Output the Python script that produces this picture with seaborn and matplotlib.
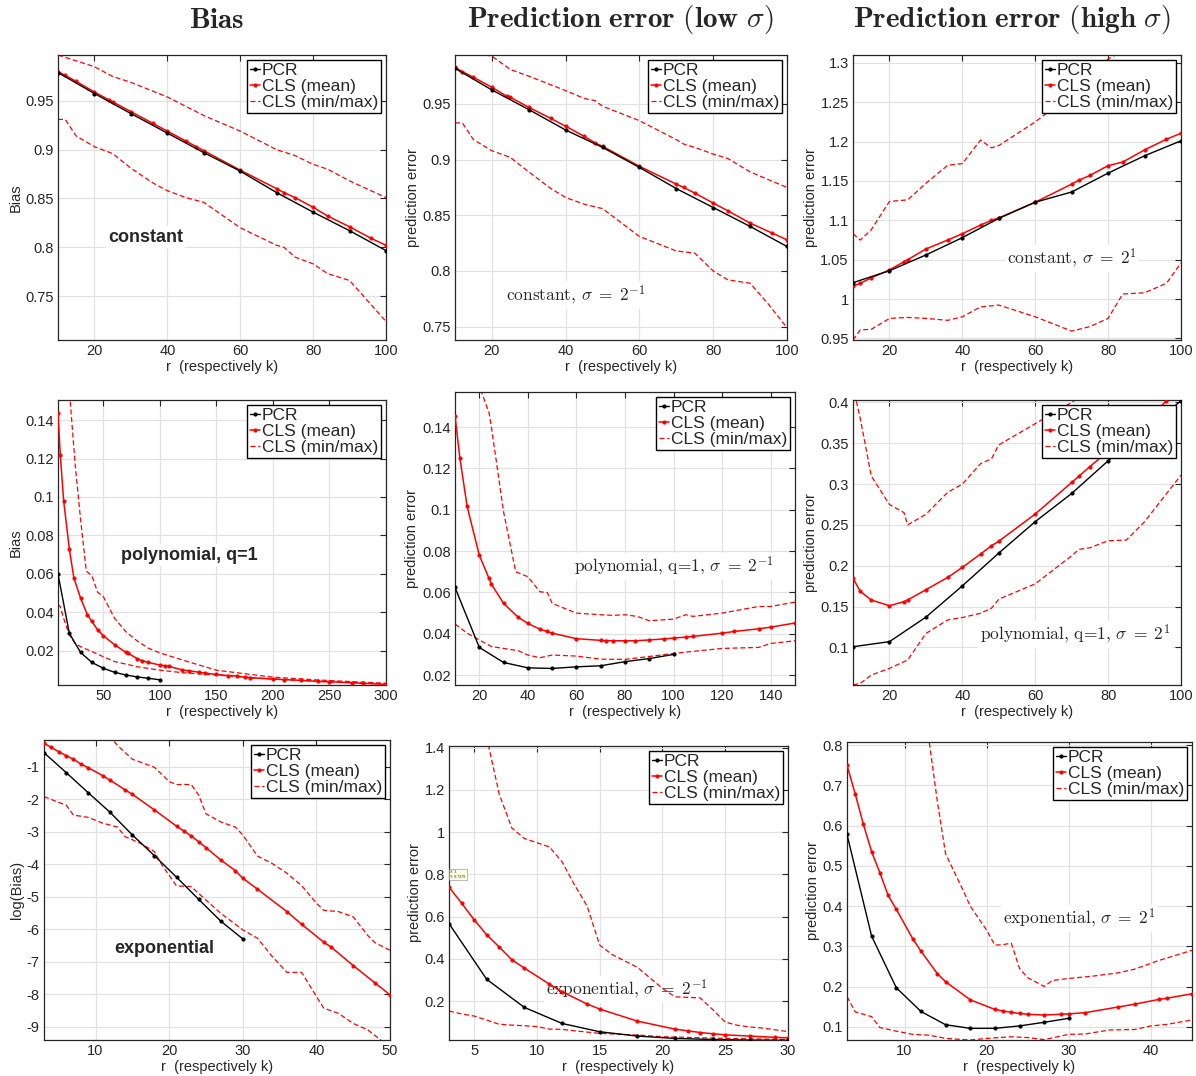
import matplotlib
matplotlib.use("Agg")
import matplotlib.pyplot as plt
from matplotlib.ticker import FuncFormatter
import seaborn as sns

# ---- data ----
r_pcr = [10, 20, 30, 40, 50, 60, 70, 80, 90, 100]
r_cls = [10, 12, 15, 20, 24, 25, 30, 36, 40, 45, 48, 50, 60, 70, 72, 75, 80, 84, 90, 96, 100]
r_pcr_exp = [3, 6, 9, 12, 15, 18, 21, 24, 27, 30]

# row 1: constant
bias_const_pcr = [0.979, 0.9575, 0.937, 0.917, 0.897, 0.878, 0.856, 0.836, 0.817, 0.7966]
bias_const_mean = [0.980, 0.976, 0.970, 0.959, 0.951, 0.949, 0.939, 0.927, 0.919, 0.909, 0.903,
                   0.899, 0.879, 0.860, 0.856, 0.851, 0.841, 0.832, 0.821, 0.809, 0.802]
bias_const_max_r = [10, 20, 25, 30, 40, 50, 60, 70, 75, 80, 84, 90, 100]
bias_const_max = [0.997, 0.985, 0.975, 0.969, 0.954, 0.935, 0.919, 0.900, 0.894, 0.885, 0.880, 0.868, 0.851]
bias_const_min_r = [10, 12, 15, 20, 25, 30, 36, 40, 45, 50, 60, 70, 72, 75, 80, 84, 90, 95, 100]
bias_const_min = [0.931, 0.931, 0.914, 0.903, 0.896, 0.881, 0.866, 0.858, 0.851, 0.846, 0.820,
                  0.802, 0.800, 0.790, 0.783, 0.773, 0.766, 0.745, 0.724]

low_const_pcr = [0.982, 0.9626, 0.945, 0.9266, 0.911, 0.893, 0.874, 0.857, 0.840, 0.822]
low_const_mean = [0.983, 0.979, 0.974, 0.965, 0.957, 0.956, 0.947, 0.937, 0.930, 0.921, 0.915,
                  0.912, 0.894, 0.878, 0.875, 0.870, 0.861, 0.854, 0.843, 0.834, 0.828]
low_const_max_r = [10, 15, 20, 25, 30, 40, 45, 48, 50, 60, 70, 72, 75, 80, 84, 90, 100]
low_const_max = [1.0, 0.996, 0.993, 0.981, 0.975, 0.962, 0.955, 0.953, 0.948, 0.935, 0.918,
                 0.914, 0.911, 0.905, 0.901, 0.889, 0.875]
low_const_min_r = [10, 12, 15, 20, 25, 30, 36, 40, 45, 50, 60, 70, 75, 80, 84, 90, 95, 100]
low_const_min = [0.933, 0.933, 0.918, 0.908, 0.902, 0.889, 0.874, 0.866, 0.860, 0.856, 0.831,
                 0.818, 0.816, 0.800, 0.792, 0.789, 0.770, 0.749]

high_const_pcr = [1.0208, 1.036, 1.056, 1.078, 1.1025, 1.123, 1.136, 1.160, 1.182, 1.201]
high_const_mean = [1.0165, 1.020, 1.027, 1.037, 1.0475, 1.050, 1.0636, 1.075, 1.083, 1.094, 1.100,
                   1.103, 1.123, 1.146, 1.151, 1.157, 1.1695, 1.174, 1.1894, 1.203, 1.2106]
high_const_max_r = [10, 12, 15, 20, 25, 30, 36, 40, 45, 48, 50, 60, 70, 80, 90, 100]
high_const_max = [1.083, 1.075, 1.088, 1.124, 1.126, 1.147, 1.170, 1.172, 1.202, 1.192, 1.195,
                  1.225, 1.26, 1.305, 1.33, 1.35]
high_const_min_r = [10, 12, 15, 20, 25, 30, 36, 40, 45, 50, 60, 70, 75, 80, 84, 90, 96, 100]
high_const_min = [0.948, 0.961, 0.9615, 0.9754, 0.9767, 0.9754, 0.973, 0.9775, 0.990, 0.9924,
                  0.9775, 0.9593, 0.965, 0.9754, 1.0064, 1.008, 1.020, 1.046]

# row 2: polynomial, q=1
bias_poly_pcr = [0.060, 0.0292, 0.0192, 0.014, 0.011, 0.0089, 0.0075, 0.0065, 0.0058, 0.005]
bias_poly_mean_r = [10, 12, 15, 20, 24, 30, 36, 40, 45, 50, 60, 70, 72, 80, 84, 90, 100, 105, 108,
                    120, 126, 135, 140, 150, 160, 168, 175, 180, 200, 210, 225, 240, 250, 270, 280, 300]
bias_poly_mean = [0.1435, 0.122, 0.098, 0.073, 0.058, 0.0474, 0.0388, 0.0353, 0.031, 0.028, 0.0232,
                  0.0193, 0.0188, 0.016, 0.015, 0.014, 0.0127, 0.0122, 0.012, 0.0101, 0.0097, 0.0089,
                  0.0085, 0.0078, 0.0072, 0.0070, 0.0063, 0.0061, 0.0054, 0.0051, 0.0047, 0.0042,
                  0.004, 0.0035, 0.0032, 0.0026]
bias_poly_max_r = [10, 15, 20, 25, 30, 35, 40, 45, 50, 60, 70, 80, 90, 100, 120, 150, 180, 200, 240, 300]
bias_poly_max = [0.25, 0.19, 0.156, 0.118, 0.088, 0.0615, 0.059, 0.0505, 0.0483, 0.037, 0.030,
                 0.0252, 0.0214, 0.019, 0.0153, 0.010, 0.0078, 0.0064, 0.0049, 0.0032]
bias_poly_min_r = [10, 12, 15, 20, 25, 30, 40, 50, 60, 80, 100, 120, 150, 180, 200, 250, 300]
bias_poly_min = [0.0443, 0.043, 0.037, 0.0283, 0.024, 0.0222, 0.0197, 0.017, 0.0145, 0.0118, 0.010,
                 0.0087, 0.0075, 0.0061, 0.0054, 0.0039, 0.0028]

low_poly_pcr = [0.0624, 0.0334, 0.0261, 0.0235, 0.0232, 0.024, 0.0245, 0.0265, 0.028, 0.030]
low_poly_mean_r = [10, 12, 15, 20, 24, 25, 30, 36, 40, 45, 48, 50, 60, 70, 72, 75, 80, 84, 90, 96,
                   100, 105, 108, 120, 125, 135, 140, 150]
low_poly_mean = [0.1456, 0.125, 0.1016, 0.078, 0.0668, 0.064, 0.0547, 0.048, 0.045, 0.0422, 0.0411,
                 0.0403, 0.0376, 0.0368, 0.0367, 0.0366, 0.0366, 0.0366, 0.037, 0.0375, 0.0379,
                 0.0384, 0.0387, 0.0403, 0.0411, 0.0424, 0.0432, 0.0452]
low_poly_max_r = [10, 15, 20, 24, 25, 30, 35, 40, 45, 48, 50, 60, 70, 75, 80, 85, 90, 100, 105, 108,
                  120, 135, 140, 150]
low_poly_max = [0.30, 0.21, 0.16, 0.147, 0.14, 0.099, 0.070, 0.0676, 0.0603, 0.060, 0.0547, 0.050,
                0.0492, 0.0489, 0.0492, 0.0484, 0.0463, 0.0471, 0.0492, 0.0484, 0.050, 0.0532,
                0.0532, 0.0553]
low_poly_min_r = [10, 15, 20, 25, 30, 36, 40, 45, 50, 60, 70, 80, 90, 100, 120, 135, 140, 150]
low_poly_min = [0.0447, 0.0403, 0.037, 0.0338, 0.0329, 0.0318, 0.0297, 0.0284, 0.0297, 0.0292,
                0.0277, 0.0276, 0.029, 0.0305, 0.0329, 0.0334, 0.0353, 0.0366]

high_poly_pcr = [0.1008, 0.107, 0.137, 0.1753, 0.2155, 0.254, 0.2885, 0.3285, 0.365, 0.402]
high_poly_mean = [0.1845, 0.1686, 0.158, 0.151, 0.156, 0.158, 0.1706, 0.1857, 0.198, 0.2143, 0.2245,
                  0.23, 0.2633, 0.302, 0.3097, 0.3215, 0.340, 0.355, 0.375, 0.402, 0.42]
high_poly_max_r = [10, 12, 13, 15, 20, 24, 25, 30, 36, 40, 45, 48, 50, 60, 70, 80]
high_poly_max = [0.42, 0.38, 0.357, 0.31, 0.275, 0.265, 0.25, 0.263, 0.29, 0.30, 0.325, 0.331,
                 0.348, 0.374, 0.40, 0.43]
high_poly_min_r = [10, 12, 15, 20, 25, 30, 36, 40, 45, 48, 50, 60, 70, 72, 75, 80, 85, 90, 100]
high_poly_min = [0.054, 0.056, 0.066, 0.0743, 0.0845, 0.117, 0.1337, 0.1365, 0.1418, 0.148, 0.159,
                 0.1778, 0.2122, 0.22, 0.222, 0.2306, 0.2314, 0.2539, 0.311]

# row 3: exponential
bias_exp_pcr = [-0.57, -1.18, -1.8, -2.41, -3.10, -3.74, -4.40, -5.08, -5.75, -6.30]
bias_exp_mean_r = [3, 4, 5, 6, 7, 8, 9, 11, 12, 14, 15, 18, 21, 22, 23, 24, 25, 27, 29, 30, 32, 36,
                   38, 41, 42, 45, 48, 50]
bias_exp_mean = [-0.28, -0.41, -0.54, -0.66, -0.77, -0.92, -1.03, -1.28, -1.42, -1.71, -1.85, -2.33,
                 -2.83, -2.98, -3.13, -3.31, -3.49, -3.87, -4.20, -4.43, -4.77, -5.46, -5.85, -6.40,
                 -6.55, -7.12, -7.66, -8.02]
bias_exp_max_r = [11, 12, 13, 15, 18, 20, 21, 23, 24, 25, 27, 29, 30, 32, 34, 36, 38, 40, 41, 43,
                  45, 47, 48, 50]
bias_exp_max = [0.1, -0.08, -0.35, -0.77, -1.02, -1.46, -1.55, -1.55, -1.87, -2.45, -2.7, -2.86,
                -3.1, -3.75, -3.98, -4.28, -4.66, -5.2, -5.42, -5.46, -5.62, -6.2, -6.42, -6.65]
bias_exp_min_r = [3, 5, 6, 7, 9, 11, 13, 14, 16, 18, 19, 21, 23, 24, 27, 30, 32, 34, 36, 38, 40, 41,
                  43, 45, 47, 49, 50]
bias_exp_min = [-1.92, -2.1, -2.18, -2.49, -2.56, -2.74, -2.86, -3.15, -3.35, -3.61, -4.02, -4.67,
                -4.69, -4.9, -5.51, -6.02, -6.28, -6.84, -7.33, -7.33, -8.07, -8.43, -8.59, -8.9,
                -9.1, -9.46, -9.7]

low_exp_pcr = [0.567, 0.303, 0.170, 0.094, 0.0546, 0.034, 0.023, 0.018, 0.015, 0.014]
low_exp_mean_r = [3, 4, 5, 6, 7, 8, 9, 11, 12, 14, 15, 18, 21, 22, 23, 24, 25, 27, 29, 30]
low_exp_mean = [0.740, 0.664, 0.585, 0.514, 0.456, 0.396, 0.356, 0.280, 0.244, 0.186, 0.162, 0.105,
                0.067, 0.059, 0.051, 0.045, 0.040, 0.034, 0.028, 0.026]
low_exp_max_r = [5, 6, 7, 8, 9, 10, 11, 12, 13, 14, 15, 16, 18, 19, 20, 21, 23, 24, 25, 26, 27, 28, 30]
low_exp_max = [1.7, 1.45, 1.18, 1.02, 0.97, 0.95, 0.93, 0.86, 0.75, 0.65, 0.465, 0.42, 0.36, 0.31,
               0.26, 0.22, 0.215, 0.16, 0.10, 0.085, 0.077, 0.072, 0.055]
low_exp_min_r = [3, 4, 5, 6, 7, 8, 9, 10, 11, 12, 13, 15, 18, 20, 22, 25, 30]
low_exp_min = [0.153, 0.139, 0.129, 0.11, 0.09, 0.086, 0.083, 0.079, 0.067, 0.066, 0.059, 0.047,
               0.039, 0.031, 0.028, 0.023, 0.018]

high_exp_pcr = [0.578, 0.325, 0.197, 0.138, 0.105, 0.096, 0.096, 0.102, 0.111, 0.121]
high_exp_mean_r = [3, 4, 5, 6, 7, 8, 9, 11, 12, 14, 15, 18, 21, 22, 23, 24, 25, 27, 29, 30, 32, 36,
                   38, 41, 42, 45]
high_exp_mean = [0.75, 0.679, 0.603, 0.535, 0.483, 0.427, 0.392, 0.319, 0.288, 0.232, 0.212, 0.167,
                 0.143, 0.139, 0.136, 0.133, 0.131, 0.129, 0.131, 0.132, 0.135, 0.149, 0.156, 0.168,
                 0.171, 0.182]
high_exp_max_r = [12, 13, 14, 15, 17, 18, 19, 20, 21, 22, 23, 24, 25, 27, 28, 30, 33, 36, 38, 41, 45]
high_exp_max = [0.9, 0.81, 0.66, 0.53, 0.445, 0.40, 0.37, 0.34, 0.303, 0.304, 0.308, 0.245, 0.222,
                0.20, 0.215, 0.22, 0.226, 0.234, 0.243, 0.265, 0.29]
high_exp_min_r = [3, 4, 6, 7, 9, 11, 13, 15, 18, 20, 23, 25, 27, 30, 32, 35, 38, 40, 42, 45]
high_exp_min = [0.175, 0.137, 0.125, 0.098, 0.089, 0.081, 0.079, 0.071, 0.067, 0.071, 0.075, 0.073,
                0.068, 0.081, 0.082, 0.092, 0.093, 0.102, 0.106, 0.117]

col_titles = [r'$\mathbf{Bias}$',
              r'$\mathbf{Prediction\ error\ (low}\ \sigma\mathbf{)}$',
              r'$\mathbf{Prediction\ error\ (high}\ \sigma\mathbf{)}$']

# ---- style ----
sns.set_style("whitegrid")
plt.rcParams['font.family'] = ['Liberation Sans', 'DejaVu Sans']
plt.rcParams['mathtext.fontset'] = 'cm'
plt.rcParams['axes.unicode_minus'] = False

W, H = 1196, 1076
fig = plt.figure(figsize=(W / 100, H / 100), dpi=100)


def px_rect(l, r, t, b):
    return [l / W, 1 - b / H, (r - l) / W, (b - t) / H]


serif_ann = dict(fontsize=12.5, family='cmr10')
bold_ann = dict(fontsize=13, fontweight='bold')

panels = [
    dict(rect=px_rect(58, 386, 55, 340), xlim=(10, 100), ylim=(0.705, 0.997),
         xt=[20, 40, 60, 80, 100], yt=[0.75, 0.8, 0.85, 0.9, 0.95], ylabel='Bias',
         pcr=(r_pcr, bias_const_pcr), mean=(r_cls, bias_const_mean),
         mx=(bias_const_max_r, bias_const_max), mn=(bias_const_min_r, bias_const_min),
         ann=(34, 0.8105, 'constant', bold_ann)),
    dict(rect=px_rect(455, 787, 55, 340), xlim=(10, 100), ylim=(0.738, 0.994),
         xt=[20, 40, 60, 80, 100], yt=[0.75, 0.8, 0.85, 0.9, 0.95], ylabel='prediction error',
         pcr=(r_pcr, low_const_pcr), mean=(r_cls, low_const_mean),
         mx=(low_const_max_r, low_const_max), mn=(low_const_min_r, low_const_min),
         ann=(42.6, 0.7784, r'constant, $\sigma\;=\;2^{-1}$', serif_ann)),
    dict(rect=px_rect(853, 1181, 55, 340), xlim=(10, 100), ylim=(0.948, 1.31),
         xt=[20, 40, 60, 80, 100], yt=[0.95, 1, 1.05, 1.1, 1.15, 1.2, 1.25, 1.3], ylabel='prediction error',
         pcr=(r_pcr, high_const_pcr), mean=(r_cls, high_const_mean),
         mx=(high_const_max_r, high_const_max), mn=(high_const_min_r, high_const_min),
         ann=(70, 1.0517, r'constant, $\sigma\;=\;2^{1}$', serif_ann)),
    dict(rect=px_rect(58, 386, 400, 685), xlim=(10, 300), ylim=(0.0023, 0.1504),
         xt=[50, 100, 150, 200, 250, 300], yt=[0.02, 0.04, 0.06, 0.08, 0.1, 0.12, 0.14], ylabel='Bias',
         pcr=(r_pcr, bias_poly_pcr), mean=(bias_poly_mean_r, bias_poly_mean),
         mx=(bias_poly_max_r, bias_poly_max), mn=(bias_poly_min_r, bias_poly_min),
         ann=(126, 0.0698, 'polynomial, q=1', bold_ann)),
    dict(rect=px_rect(455, 795, 392, 685), xlim=(10, 150), ylim=(0.0152, 0.157),
         xt=[20, 40, 60, 80, 100, 120, 140], yt=[0.02, 0.04, 0.06, 0.08, 0.1, 0.12, 0.14],
         ylabel='prediction error',
         pcr=(r_pcr, low_poly_pcr), mean=(low_poly_mean_r, low_poly_mean),
         mx=(low_poly_max_r, low_poly_max), mn=(low_poly_min_r, low_poly_min),
         ann=(100, 0.0727, r'polynomial, q=1, $\sigma\;=\;2^{-1}$', serif_ann)),
    dict(rect=px_rect(853, 1181, 400, 685), xlim=(10, 100), ylim=(0.0539, 0.403),
         xt=[20, 40, 60, 80, 100], yt=[0.1, 0.15, 0.2, 0.25, 0.3, 0.35, 0.4], ylabel='prediction error',
         pcr=(r_pcr, high_poly_pcr), mean=(r_cls, high_poly_mean),
         mx=(high_poly_max_r, high_poly_max), mn=(high_poly_min_r, high_poly_min),
         ann=(70.9, 0.116, r'polynomial, q=1, $\sigma\;=\;2^{1}$', serif_ann)),
    dict(rect=px_rect(44, 390, 740, 1040), xlim=(3, 50), ylim=(-9.41, -0.18),
         xt=[10, 20, 30, 40, 50], yt=[-9, -8, -7, -6, -5, -4, -3, -2, -1], ylabel='log(Bias)',
         pcr=(r_pcr_exp, bias_exp_pcr), mean=(bias_exp_mean_r, bias_exp_mean),
         mx=(bias_exp_max_r, bias_exp_max), mn=(bias_exp_min_r, bias_exp_min),
         ann=(19.4, -6.59, 'exponential', bold_ann)),
    dict(rect=px_rect(449, 788, 746, 1040), xlim=(3, 30), ylim=(0.0155, 1.408),
         xt=[5, 10, 15, 20, 25, 30], yt=[0.2, 0.4, 0.6, 0.8, 1, 1.2, 1.4], ylabel='prediction error',
         pcr=(r_pcr_exp, low_exp_pcr), mean=(low_exp_mean_r, low_exp_mean),
         mx=(low_exp_max_r, low_exp_max), mn=(low_exp_min_r, low_exp_min),
         ann=(17.2, 0.255, r'exponential, $\sigma\;=\;2^{-1}$', serif_ann)),
    dict(rect=px_rect(847, 1192, 742, 1040), xlim=(3, 45), ylim=(0.067, 0.808),
         xt=[10, 20, 30, 40], yt=[0.1, 0.2, 0.3, 0.4, 0.5, 0.6, 0.7, 0.8], ylabel='prediction error',
         pcr=(r_pcr_exp, high_exp_pcr), mean=(high_exp_mean_r, high_exp_mean),
         mx=(high_exp_max_r, high_exp_max), mn=(high_exp_min_r, high_exp_min),
         ann=(31.3, 0.369, r'exponential, $\sigma\;=\;2^{1}$', serif_ann)),
]

fmt = FuncFormatter(lambda v, p: f'{v:g}')
dash = (0, (4, 2.2))

axes = []
for p in panels:
    ax = fig.add_axes(p['rect'])
    axes.append(ax)
    ax.set_axisbelow(True)
    ax.grid(True, color='#e2e2e2', lw=0.9)

    sns.lineplot(x=p['pcr'][0], y=p['pcr'][1], ax=ax, color='black', lw=1.0,
                 marker='.', ms=4.5, mec='black', label='PCR', estimator=None, sort=False, zorder=4)
    sns.lineplot(x=p['mean'][0], y=p['mean'][1], ax=ax, color='red', lw=1.1,
                 marker='.', ms=4.5, mec='red', label='CLS (mean)', estimator=None, sort=False, zorder=3)
    sns.lineplot(x=p['mx'][0], y=p['mx'][1], ax=ax, color='red', lw=0.9, linestyle=dash,
                 label='CLS (min/max)', estimator=None, sort=False, zorder=2)
    sns.lineplot(x=p['mn'][0], y=p['mn'][1], ax=ax, color='red', lw=0.9, linestyle=dash,
                 estimator=None, sort=False, zorder=2)

    ax.set_xlim(*p['xlim'])
    ax.set_ylim(*p['ylim'])
    ax.set_xticks(p['xt'])
    ax.set_yticks(p['yt'])
    ax.xaxis.set_major_formatter(fmt)
    ax.yaxis.set_major_formatter(fmt)
    ax.tick_params(direction='in', length=4, width=0.8, top=True, right=True,
                   labelsize=10.5, labelcolor='#262626', color='#262626', pad=3)
    for s in ax.spines.values():
        s.set_edgecolor('#262626')
        s.set_linewidth(0.9)

    ax.set_xlabel('r  (respectively k)', fontsize=10.5, color='#262626', labelpad=1)
    ax.set_ylabel(p['ylabel'], fontsize=10.5, color='#262626', labelpad=2)

    ax_x, ax_y, txt, kw = p['ann']
    ax.text(ax_x, ax_y, txt, ha='center', va='center', zorder=1.5,
            bbox=dict(facecolor='white', edgecolor='none', pad=1.5), **kw)

    leg = ax.legend(loc='upper right', fontsize=12.5, frameon=True, fancybox=False,
                    framealpha=1, edgecolor='black', handlelength=0.6, handletextpad=0.1,
                    labelspacing=0.05, borderpad=0.15, borderaxespad=0.3)
    leg.get_frame().set_linewidth(1.0)
    leg.set_zorder(6)

# small data tip in the low-sigma exponential panel
axes[7].text(3.1, 0.8, 'X: 3\nY: 0.7379', fontsize=2.6, va='center', ha='left', zorder=7,
             bbox=dict(facecolor='#ffffe1', edgecolor='#888888', lw=0.4, pad=0.8))

for x, t in zip([217, 620, 1012], col_titles):
    fig.text(x / W, 1 - 20 / H, t, ha='center', va='center', fontsize=21)

fig.savefig('out.png', dpi=100)
